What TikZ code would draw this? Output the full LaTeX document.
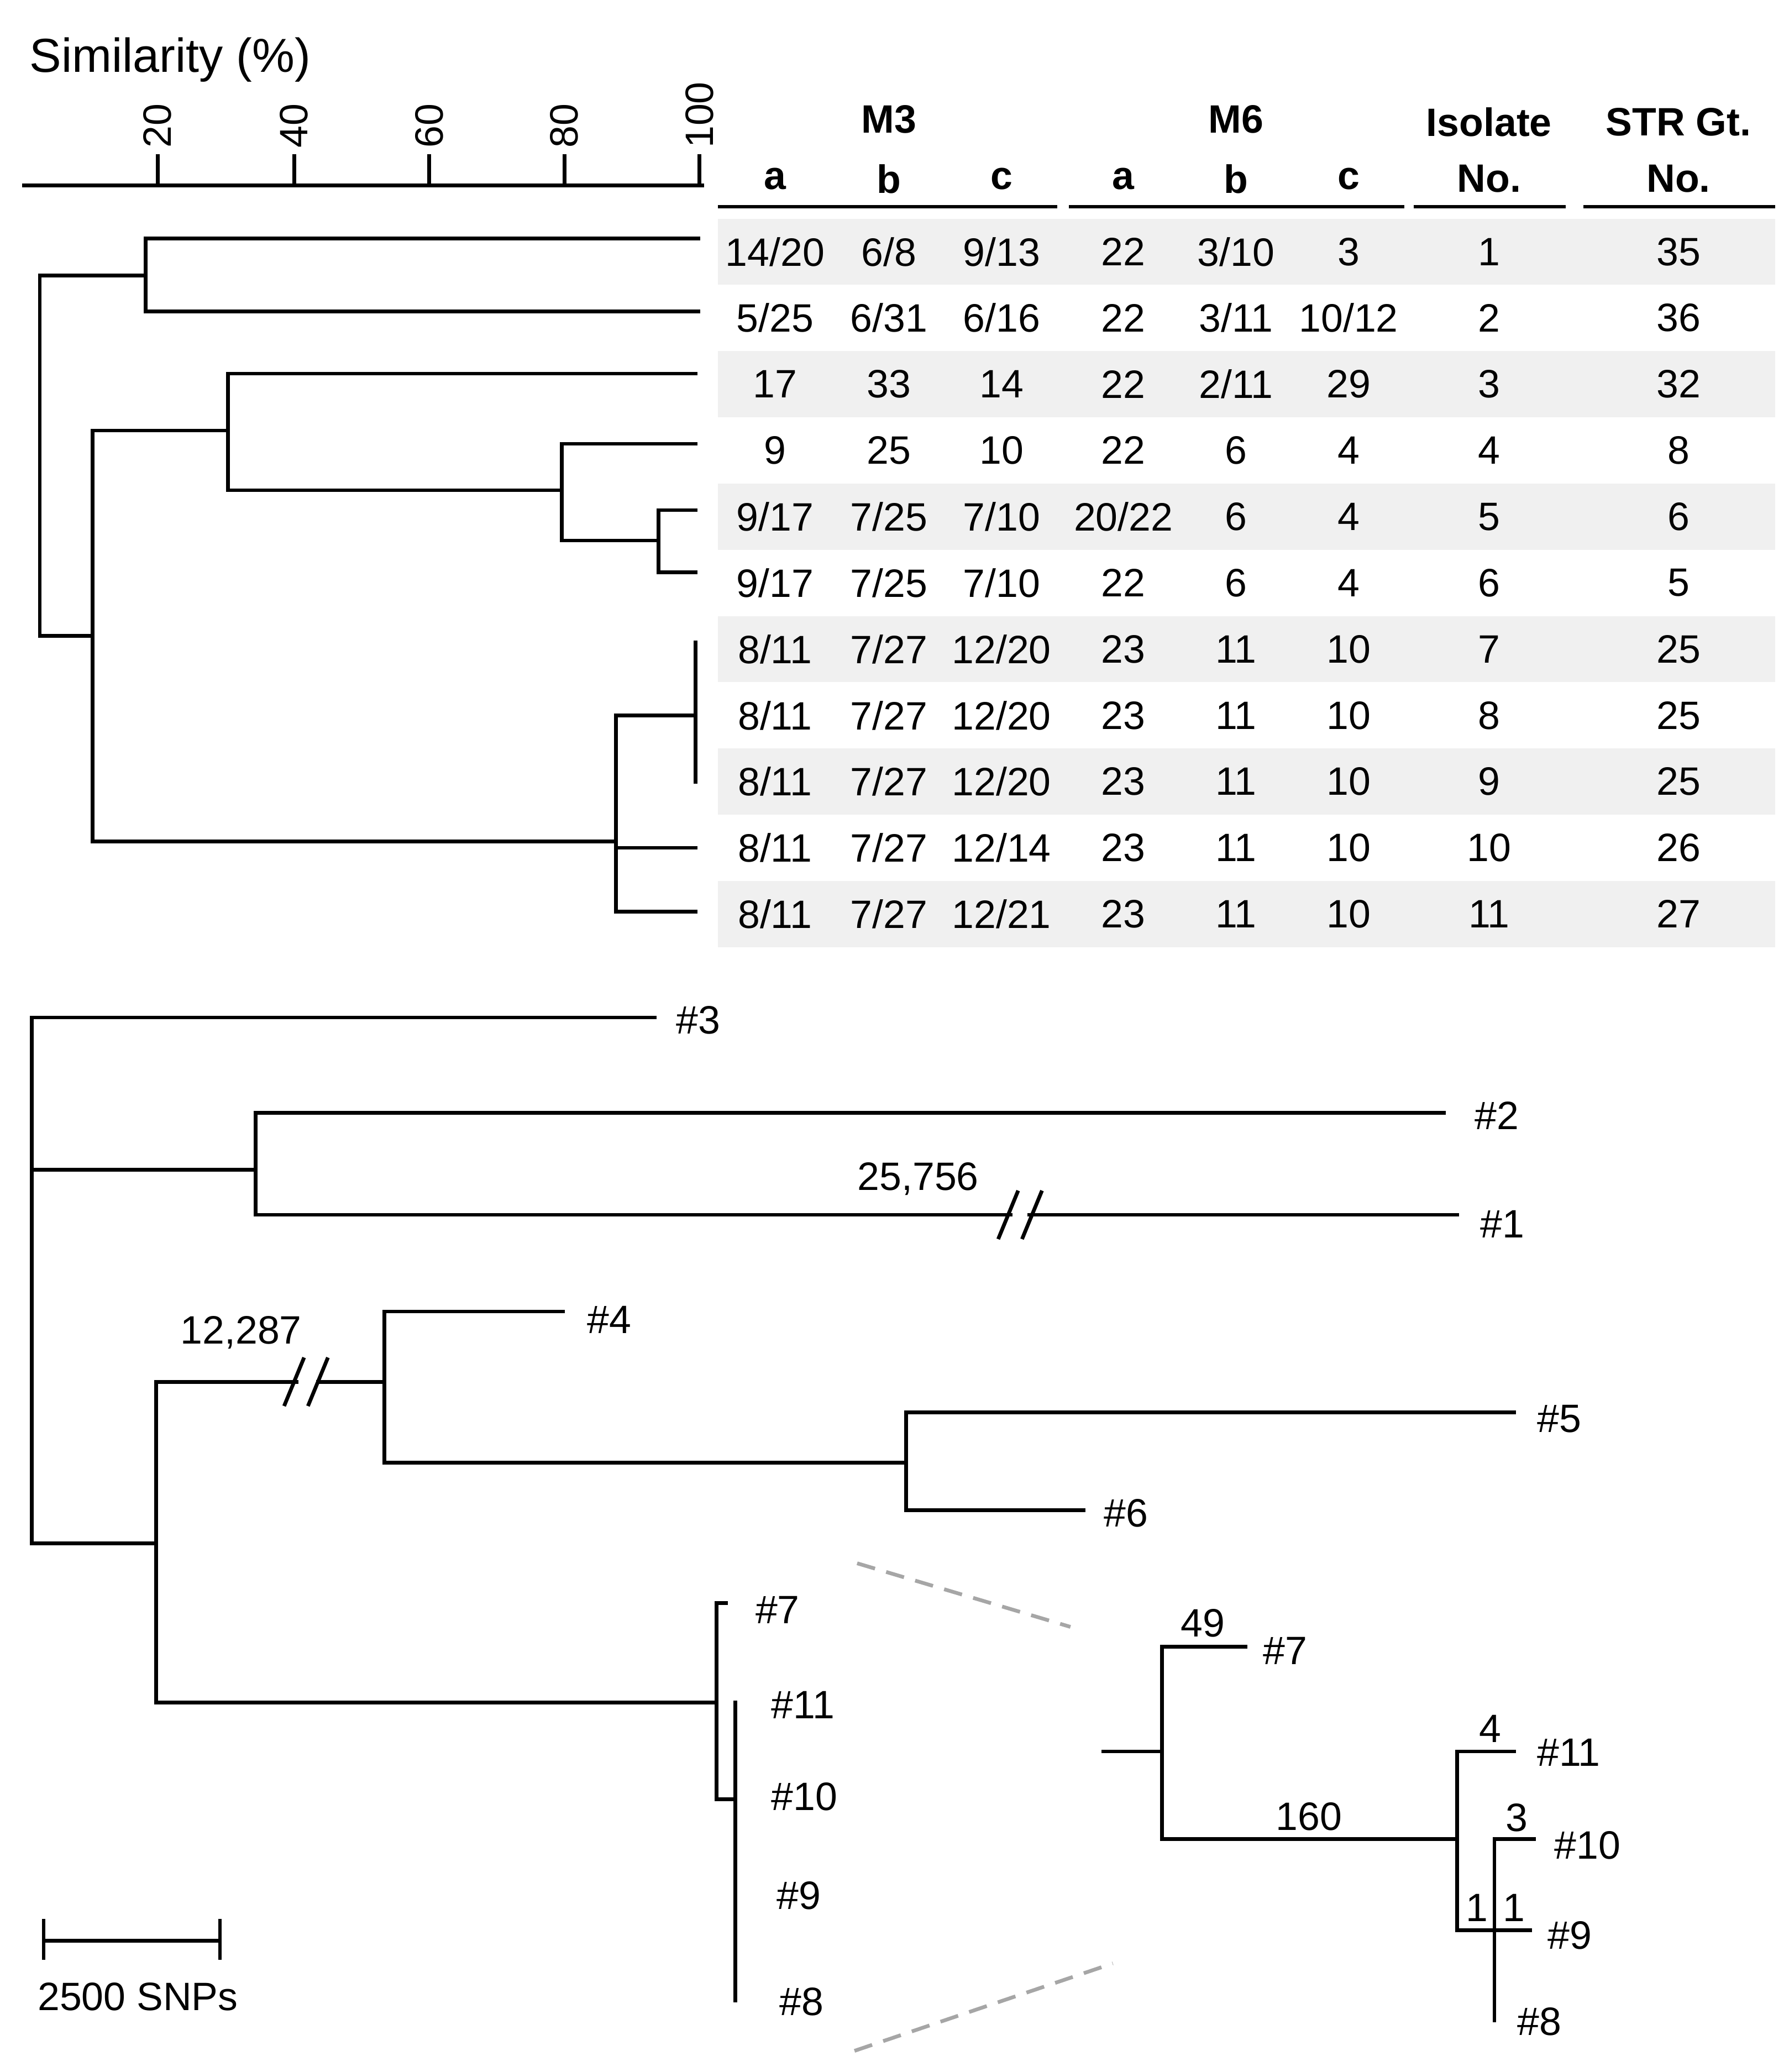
\documentclass[tikz,border=0pt]{standalone}
\usepackage{fontspec}
\setmainfont{Liberation Sans}
\newcommand\trow[2]{\foreach \c [count=\j] in {#2} {
    \pgfmathsetmacro\xx{{585,671,756,848,933,1018,1124,1267}[\j-1]}
    \node[txt] at (\xx,{140+50*#1}) {\c};}}
\begin{document}
\begin{tikzpicture}[x=0.02cm,y=-0.02cm,
  br/.style={line width=1.6pt,line cap=rect},
  txt/.style={font=\fontsize{17}{20}\selectfont,inner sep=0pt},
  hd/.style={font=\bfseries\fontsize{17}{20}\selectfont,inner sep=0pt},
  dsh/.style={gray!70,line width=1.6pt,dash pattern=on 8pt off 5pt}]
\useasboundingbox (0,0) rectangle (1350,1564);
% ---- similarity axis
\node[txt,anchor=west,font=\fontsize{20.5}{22}\selectfont] (simt) at (22,45) {Similarity (\%)};
\draw[br] (18,140) -- (530,140);
\foreach \v/\x in {20/119,40/222,60/324,80/426,100/528}{
  \draw[br] (\x,140) -- (\x,118);
  \node[txt,rotate=90,anchor=west] at (\x,112) {\v};}
% ---- table
\foreach \y in {190,290,390,490,590,690}
  \fill[gray!12] (542,\y-25) rectangle (1340,\y+25);
\node[hd] at (671,90) {M3}; \node[hd] at (933,90) {M6};
\node[hd] at (1124,92) {Isolate}; \node[hd] at (1267,92) {STR Gt.};
\foreach \t/\x in {a/585,b/671,c/756,a/848,b/933,c/1018,No./1124,No./1267}
  \node[hd] at (\x,135) {\t};
\foreach \a/\b in {542/798,807/1060,1067/1182,1195/1340}
  \draw[line width=1.6pt] (\a,156) -- (\b,156);
\trow{1}{14/20,6/8,9/13,22,3/10,3,1,35}
\trow{2}{5/25,6/31,6/16,22,3/11,10/12,2,36}
\trow{3}{17,33,14,22,2/11,29,3,32}
\trow{4}{9,25,10,22,6,4,4,8}
\trow{5}{9/17,7/25,7/10,20/22,6,4,5,6}
\trow{6}{9/17,7/25,7/10,22,6,4,6,5}
\trow{7}{8/11,7/27,12/20,23,11,10,7,25}
\trow{8}{8/11,7/27,12/20,23,11,10,8,25}
\trow{9}{8/11,7/27,12/20,23,11,10,9,25}
\trow{10}{8/11,7/27,12/14,23,11,10,10,26}
\trow{11}{8/11,7/27,12/21,23,11,10,11,27}
% ---- dendrogram
\draw[br] (527,180) -| (110,235) -- (527,235);
\draw[br] (525,282) -| (172,370) -- (424,370);
\draw[br] (525,335) -| (424,408) -- (497,408);
\draw[br] (525,385) -| (497,432) -- (525,432);
\draw[br] (525,485) -- (525,590);
\draw[br] (525,540) -| (465,688) -- (525,688);
\draw[br] (465,640) -- (525,640);
\draw[br] (172,325) -| (70,635) -- (465,635);
\draw[br] (110,208) -| (30,480) -- (70,480);
% ---- SNP tree
\draw[br] (494,768) -| (24,1165) -- (118,1165);
\draw[br] (24,883) -- (193,883);
\draw[br] (1090,840) -| (193,917) -- (763,917);
\draw[br] (777,917) -- (1100,917);
\draw[br] (754,934) -- (768,900); \draw[br] (772,934) -- (786,900);
\node[txt] (l1) at (693,890) {25,756};
\node[txt,anchor=west] (n3) at (510,770) {\#3};
\node[txt,anchor=west] (n2) at (1113,842) {\#2};
\node[txt,anchor=west] (n1) at (1117,924) {\#1};
\draw[br] (118,1043) -- (224,1043); \draw[br] (240,1043) -- (290,1043);
\draw[br] (215,1060) -- (229,1026); \draw[br] (233,1060) -- (247,1026);
\node[txt] (l2) at (182,1006) {12,287};
\draw[br] (118,1043) -- (118,1285) -- (541,1285);
\draw[br] (425,990) -| (290,1104) -- (684,1104);
\draw[br] (1143,1066) -| (684,1140) -- (818,1140);
\node[txt,anchor=west] (n4) at (443,996) {\#4};
\node[txt,anchor=west] (n5) at (1160,1071) {\#5};
\node[txt,anchor=west] (n6) at (833,1142) {\#6};
\draw[br] (548,1210) -| (541,1358) -- (555,1358);
\draw[br] (555,1285) -- (555,1510);
\node[txt,anchor=west] at (570,1215) {\#7};
\node[txt,anchor=west] at (582,1287) {\#11};
\node[txt,anchor=west] at (582,1356) {\#10};
\node[txt,anchor=west] at (586,1431) {\#9};
\node[txt,anchor=west] at (588,1511) {\#8};
% scale bar
\draw[br] (33,1465) -- (166,1465);
\draw[br] (33,1450) -- (33,1478); \draw[br] (166,1450) -- (166,1478);
\node[txt] at (104,1507) {2500 SNPs};
% dashed connectors
\draw[dsh] (647,1180) -- (808,1228);
\draw[dsh] (645,1548) -- (840,1482);
% inset
\draw[br] (833,1322) -- (877,1322);
\draw[br] (940,1243) -| (877,1388) -- (1100,1388);
\draw[br] (1143,1322) -| (1100,1457) -- (1155,1457);
\draw[br] (1158,1388) -- (1128,1388) -- (1128,1525);
\node[txt] at (908,1225) {49};
\node[txt] at (988,1371) {160};
\node[txt] at (1125,1305) {4};
\node[txt] at (1145,1372) {3};
\node[txt] at (1115,1440) {1};
\node[txt] at (1143,1440) {1};
\node[txt,anchor=west] at (953,1246) {\#7};
\node[txt,anchor=west] at (1160,1323) {\#11};
\node[txt,anchor=west] at (1173,1393) {\#10};
\node[txt,anchor=west] at (1168,1461) {\#9};
\node[txt,anchor=west] at (1145,1526) {\#8};
\end{tikzpicture}
\end{document}
